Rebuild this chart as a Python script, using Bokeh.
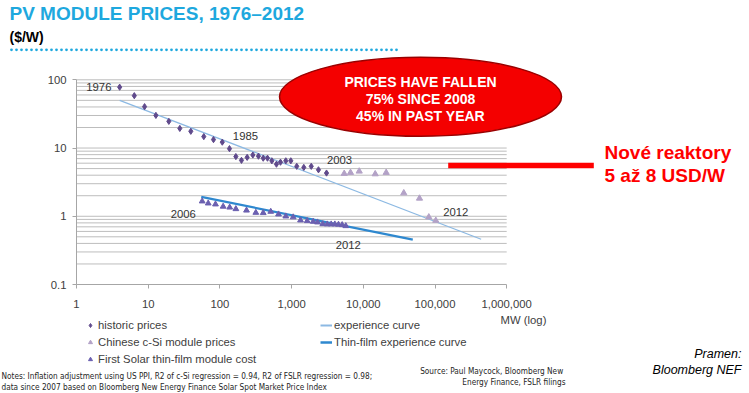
from bokeh.plotting import figure
from bokeh.layouts import column
from bokeh.models import Range1d, FixedTicker, CustomJSTickFormatter, Label, Legend, LegendItem
from bokeh.embed import file_html
from bokeh.resources import INLINE

FONT = "Liberation Sans"
NARROW = "Liberation Sans Narrow, Arial Narrow, DejaVu Sans Condensed, sans-serif"

# ---------------- data ----------------
x_ticks = [1, 10, 100, 1000, 10000, 100000, 1000000]
y_ticks = [0.1, 1, 10, 100]
y_minor = [0.2, 0.3, 0.4, 0.5, 0.6, 0.7, 0.8, 0.9,
           2, 3, 4, 5, 6, 7, 8, 9,
           20, 30, 40, 50, 60, 70, 80, 90]

hist_x = [4.0, 6.4, 8.9, 12.8, 19.4, 27.6, 39.3, 59.6, 81.4, 108, 136, 167, 200, 240,
          288, 345, 402, 461, 530, 615, 700, 830, 975, 1180, 1480, 1880, 2370, 3070]
hist_y = [78, 58.5, 40.4, 30.1, 24.6, 19.4, 17.6, 14.7, 13.3, 12.2, 9.8, 7.5, 6.6, 7.3,
          7.9, 7.6, 7.1, 7.1, 6.5, 5.8, 6.2, 6.5, 6.5, 5.4, 5.2, 5.4, 4.8, 4.3]

china_x = [5420, 6630, 8770, 14660, 20850, 36700, 60800, 82000, 102600]
china_y = [4.22, 4.36, 4.56, 4.16, 4.36, 2.19, 1.83, 0.97, 0.865]

fs_x = [56.6, 68.7, 86.8, 111, 137, 167, 235, 317, 402, 512, 657, 830, 1052, 1331,
        1650, 2000, 2296, 2723, 3140, 3566, 4008, 4508, 5070, 5700]
fs_y = [1.66, 1.55, 1.50, 1.39, 1.35, 1.28, 1.22, 1.13, 1.12, 1.17, 1.07, 1.00, 0.97, 0.874,
        0.854, 0.836, 0.817, 0.771, 0.764, 0.764, 0.764, 0.756, 0.746, 0.721]

exp_x = [4.0, 440000]
exp_y = [50, 0.46]
tf_x = [55, 49000]
tf_y = [1.92, 0.455]

year_text = ["1976", "1985", "2003", "2006", "2012", "2012"]
year_x = [2.05, 227, 4660, 30.8, 6160, 195000]
year_y = [78, 14.8, 6.57, 1.09, 0.382, 1.15]

reactor_x = [152800, 16400000]
reactor_y = [5.55, 5.55]

callout_x = [62800]
callout_y = [56.4]

# ---------------- style ----------------
HIST_C, CHINA_C, FS_C = "#604a8c", "#b3a2c7", "#6b60b0"
EXP_C, TF_C = "#8cb9e3", "#2e88cf"
TITLE_C = "#1ea8de"
TXT_C = "#404040"

W = 749
TOP_H, MAIN_H, BOT_H = 55, 259, 79
LEFT, BOTTOM = 76, 30
PPD_X, PPD_Y = 71.7, 68.23


def no_align(f):
    if "frame_align" in f.properties():
        f.frame_align = False
    return f


def blank(h, y0, y1):
    f = figure(width=W, height=h, x_range=Range1d(0, W), y_range=Range1d(y0, y1),
               output_backend="svg", toolbar_location=None,
               x_axis_location=None, y_axis_location=None, min_border=0)
    f.outline_line_color = None
    f.grid.visible = False
    return no_align(f)


def lab(f, text, x, y, size, color, style="normal", align="left", font=FONT):
    f.add_layout(Label(x=x, y=y, text=text, text_align=align, text_baseline="middle",
                       text_font=font, text_font_size=size, text_color=color,
                       text_font_style=style))


# ---------------- header ----------------
top = blank(TOP_H, TOP_H, 0)
lab(top, "PV MODULE PRICES, 1976\u20132012", 9, 12.8, "19px", TITLE_C, "bold")
lab(top, "($/W)", 9, 36.3, "14px", "#000000", "bold")
top.segment(x0=[11], x1=[397], y0=[49.3], y1=[49.3], line_color=TITLE_C, line_width=2.8,
            line_dash="0 5", line_cap="round")

# ---------------- main chart ----------------
x_end = 10 ** ((W - LEFT) / PPD_X)
y_end = 10 ** (-1 + (MAIN_H - BOTTOM) / PPD_Y)
p = figure(width=W, height=MAIN_H, x_axis_type="log", y_axis_type="log",
           x_range=Range1d(1, x_end), y_range=Range1d(0.1, y_end),
           output_backend="svg", toolbar_location=None,
           min_border=0, min_border_left=LEFT, min_border_right=0,
           min_border_top=0, min_border_bottom=BOTTOM)
no_align(p)
p.outline_line_color = None
p.xgrid.visible = False
p.ygrid.visible = False

fmt = CustomJSTickFormatter(code="return tick.toLocaleString('en-US', {maximumFractionDigits: 3});")
for ax, ticks in ((p.xaxis[0], x_ticks), (p.yaxis[0], y_ticks)):
    ax.ticker = FixedTicker(ticks=ticks)
    ax.formatter = fmt
    ax.bounds = (ticks[0], ticks[-1])
    ax.axis_line_color = "#a6a6a6"
    ax.major_tick_line_color = "#a6a6a6"
    ax.minor_tick_line_color = None
    ax.major_tick_in = 0
    ax.major_tick_out = 4
    ax.major_label_text_font = FONT
    ax.major_label_text_font_size = "11.3px"
    ax.major_label_text_color = TXT_C
p.xaxis[0].major_label_standoff = 11
p.yaxis[0].major_label_standoff = 6

grid_y = y_minor + y_ticks[1:]
p.segment(x0=[x_ticks[0]] * len(grid_y), x1=[x_ticks[-1]] * len(grid_y),
          y0=grid_y, y1=grid_y, line_color="#bdbdbd", line_width=1)

p.line(exp_x, exp_y, line_color=EXP_C, line_width=1.2)
p.line(tf_x, tf_y, line_color=TF_C, line_width=2.2)
p.scatter(hist_x, hist_y, marker="diamond", size=6.2, fill_color=HIST_C, line_color=HIST_C)
p.scatter(china_x, china_y, marker="triangle", size=6.2, fill_color=CHINA_C, line_color=CHINA_C)
p.scatter(fs_x, fs_y, marker="triangle", size=5.8, fill_color=FS_C, line_color=FS_C)

p.ellipse(x=callout_x, y=callout_y, width=282, height=79,
          width_units="screen", height_units="screen",
          fill_color="#f40000", line_color="#9a0000", line_width=1.5)
p.segment(x0=[reactor_x[0]], x1=[reactor_x[1]], y0=[reactor_y[0]], y1=[reactor_y[1]],
          line_color="#ff0000", line_width=5.5, line_cap="butt")

for t, xx, yy in zip(year_text, year_x, year_y):
    lab(p, t, xx, yy, "11.3px", "#333333", align="center")

FRAME_BOTTOM = TOP_H + MAIN_H - BOTTOM   # page y of the x axis


def slab(text, px, py, size, color, style="normal", align="left"):
    p.add_layout(Label(x=px - LEFT, y=FRAME_BOTTOM - py,
                       x_units="screen", y_units="screen", text=text,
                       text_align=align, text_baseline="middle", text_font=FONT,
                       text_font_size=size, text_color=color, text_font_style=style))


for t, yy in (("PRICES HAVE FALLEN", 81), ("75% SINCE 2008", 98.3), ("45% IN PAST YEAR", 115)):
    slab(t, 420, yy, "14px", "#ffffff", "bold", align="center")
slab("Nov\u00e9 reaktory", 604, 151.7, "19px", "#ff0000", "bold")
slab("5 a\u017e 8 USD/W", 604, 175, "19px", "#ff0000", "bold")

# ---------------- footer: legend, notes ----------------
Y0 = TOP_H + MAIN_H
Y1 = Y0 + BOT_H
bot = blank(BOT_H, Y1, Y0)
# legend proxies (same data; they fall outside this panel's visible range)
b_hist = bot.scatter(hist_x, hist_y, marker="diamond", size=6, fill_color=HIST_C, line_color=HIST_C)
b_china = bot.scatter(china_x, china_y, marker="triangle", size=6, fill_color=CHINA_C, line_color=CHINA_C)
b_fs = bot.scatter(fs_x, fs_y, marker="triangle", size=6, fill_color=FS_C, line_color=FS_C)
b_exp = bot.line(exp_x, exp_y, line_color=EXP_C, line_width=2)
b_tf = bot.line(tf_x, tf_y, line_color=TF_C, line_width=2.5)

leg_common = dict(padding=0, margin=0, spacing=3, label_height=14, glyph_height=14,
                  border_line_color=None, background_fill_alpha=0,
                  label_text_font=FONT, label_text_font_size="11.3px",
                  label_text_color=TXT_C)
leg1 = Legend(items=[LegendItem(label="historic prices", renderers=[b_hist]),
                     LegendItem(label="Chinese c-Si module prices", renderers=[b_china]),
                     LegendItem(label="First Solar thin-film module cost", renderers=[b_fs])],
              location=(85, Y1 - 366), glyph_width=10, label_standoff=3, **leg_common)
leg2 = Legend(items=[LegendItem(label="experience curve", renderers=[b_exp]),
                     LegendItem(label="Thin-film experience curve", renderers=[b_tf])],
              location=(320, Y1 - 349), glyph_width=12, label_standoff=2, **leg_common)
bot.add_layout(leg1)
bot.add_layout(leg2)

lab(bot, "MW (log)", 523, 319.3, "11.3px", TXT_C, align="center")
lab(bot, "Notes: Inflation adjustment using US PPI, R2 of c-Si regression = 0.94, R2 of FSLR regression = 0.98;",
    1, 375.7, "8.2px", "#262626", font=NARROW)
lab(bot, "data since 2007 based on Bloomberg New Energy Finance Solar Spot Market Price Index",
    1, 386.5, "8.2px", "#262626", font=NARROW)
lab(bot, "Source: Paul Maycock,  Bloomberg New", 565, 370.7, "8.2px", "#262626", align="right", font=NARROW)
lab(bot, "Energy Finance, FSLR filings", 565, 381.7, "8.2px", "#262626", align="right", font=NARROW)
lab(bot, "Pramen:", 741, 353.3, "12.5px", "#000000", "italic", align="right")
lab(bot, "Bloomberg NEF", 741, 369.3, "12.5px", "#000000", "italic", align="right")

layout = column(top, p, bot, spacing=0)
open("out.html", "w").write(file_html(layout, INLINE))
